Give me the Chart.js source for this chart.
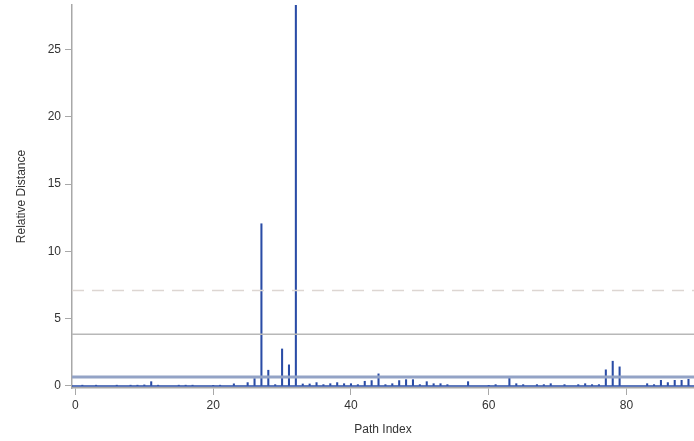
<!DOCTYPE html>
<html>
<head>
<meta charset="utf-8">
<script src="https://cdn.jsdelivr.net/npm/chart.js@4"></script>
<style>
  html, body { margin: 0; padding: 0; background: #fff; }
  #wrap { width: 694px; height: 441px; }
</style>
</head>
<body>
<div id="wrap"><canvas id="myChart" width="694" height="441"></canvas></div>
<script>
// path index (x) and relative distance (y) for each needle
const pathIndex = [1, 3, 6, 8, 9, 10, 11, 12, 15, 16, 17, 20, 21, 23, 25, 26, 27, 28, 29, 30,
    31, 32, 33, 34, 35, 36, 37, 38, 39, 40, 41, 42, 43, 44, 45, 46, 47, 48, 49, 50,
    51, 52, 53, 54, 57, 60, 61, 63, 64, 65, 67, 68, 69, 71, 73, 74, 75, 76, 77, 78,
    79, 83, 84, 85, 86, 87, 88, 89];
const distance = [0.06, 0.06, 0.06, 0.06, 0.06, 0.08, 0.32, 0.06, 0.06, 0.06, 0.06, 0.05, 0.06, 0.16, 0.25, 0.55, 12.05, 1.17, 0.1, 2.75,
    1.57, 28.3, 0.15, 0.15, 0.25, 0.1, 0.17, 0.25, 0.17, 0.17, 0.1, 0.35, 0.4, 0.9, 0.1, 0.17, 0.4, 0.47, 0.47, 0.1,
    0.32, 0.17, 0.17, 0.1, 0.32, 0.05, 0.1, 0.6, 0.17, 0.1, 0.1, 0.1, 0.17, 0.1, 0.1, 0.17, 0.1, 0.1, 1.2, 1.84,
    1.42, 0.17, 0.1, 0.42, 0.25, 0.42, 0.42, 0.5];

// tick labels
const xTicks = [0, 20, 40, 60, 80];
const yTicks = [0, 5, 10, 15, 20, 25];

// horizontal reference lines
const refValues = [0.67, 3.85, 7.1];
const refColors = ['#93a3c6', '#b8b8b8', '#ddd6d2'];
const refWidths = [3, 1.5, 1.5];
const refDashes = [[], [], [12, 8]];

const needleColor = '#2a4ca6';

// draws the zero baseline and the reference lines using the y scale
const refLines = {
    id: 'refLines',
    afterDatasetsDraw(chart) {
        const ctx = chart.ctx;
        const area = chart.chartArea;
        const y = chart.scales.y;
        ctx.save();
        ctx.beginPath();
        ctx.rect(area.left, area.top, area.right - area.left, area.bottom - area.top);
        ctx.clip();
        // baseline at 0
        let py = y.getPixelForValue(0);
        ctx.strokeStyle = needleColor;
        ctx.lineWidth = 1.5;
        ctx.beginPath();
        ctx.moveTo(area.left, py);
        ctx.lineTo(area.right, py);
        ctx.stroke();
        refValues.forEach((v, i) => {
            py = y.getPixelForValue(v);
            ctx.strokeStyle = refColors[i];
            ctx.lineWidth = refWidths[i];
            ctx.setLineDash(refDashes[i]);
            ctx.beginPath();
            ctx.moveTo(area.left, py);
            ctx.lineTo(area.right, py);
            ctx.stroke();
        });
        ctx.restore();
    }
};

const ctx = document.getElementById('myChart').getContext('2d');
const myChart = new Chart(ctx, {
    type: 'bar',
    data: {
        datasets: [{
            data: pathIndex.map((x, i) => ({ x: x, y: distance[i] })),
            backgroundColor: needleColor,
            borderWidth: 0,
            barThickness: 1.4
        }]
    },
    options: {
        responsive: false,
        animation: false,
        layout: { padding: { top: 5, right: 0, left: 0, bottom: 0 } },
        plugins: {
            legend: { display: false },
            tooltip: { enabled: false }
        },
        scales: {
            x: {
                type: 'linear',
                offset: false,
                min: -0.5,
                max: 89.8,
                grid: { offset: false, drawOnChartArea: false, drawTicks: true, tickLength: 7, color: '#a8a8a8' },
                border: { color: '#a8a8a8', width: 1.5 },
                ticks: { color: '#333', font: { family: 'Liberation Sans, Arial', size: 12 }, padding: 3 },
                afterBuildTicks: (scale) => { scale.ticks = xTicks.map(v => ({ value: v })); },
                afterFit: (scale) => { scale.height = 53; },
                title: { display: true, text: 'Path Index', color: '#333', font: { family: 'Liberation Sans, Arial', size: 12 }, padding: { top: 4 } }
            },
            y: {
                min: -0.15,
                max: 28.3,
                grid: { drawOnChartArea: false, drawTicks: true, tickLength: 7, color: '#a8a8a8' },
                border: { color: '#a8a8a8', width: 1.5 },
                ticks: { color: '#333', font: { family: 'Liberation Sans, Arial', size: 12 }, padding: 4 },
                afterBuildTicks: (scale) => { scale.ticks = yTicks.map(v => ({ value: v })); },
                afterFit: (scale) => { scale.width = 72; scale.paddingTop = 0; },
                title: { display: true, text: 'Relative Distance', color: '#333', font: { family: 'Liberation Sans, Arial', size: 12 }, padding: { top: 14, bottom: 10 } }
            }
        }
    },
    plugins: [refLines]
});
</script>
</body>
</html>
